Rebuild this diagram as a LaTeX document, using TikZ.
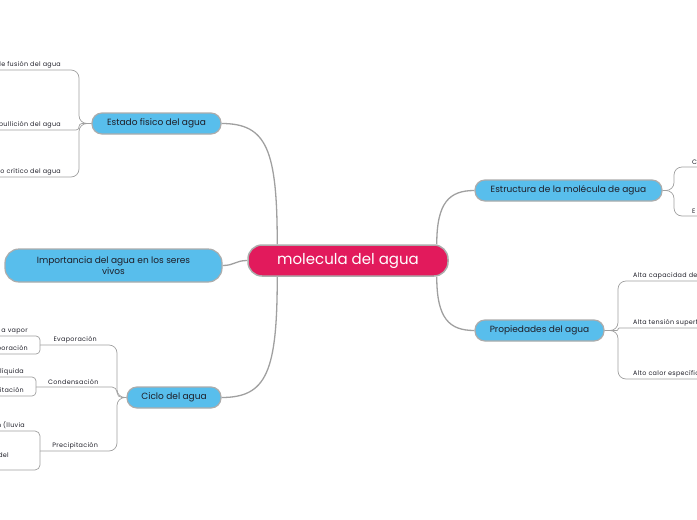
\documentclass[tikz,border=0pt]{standalone}
\usepackage{fontspec}
\setmainfont{Poppins}
\usetikzlibrary{calc,backgrounds}
\definecolor{rootpink}{RGB}{226,26,92}
\definecolor{topicblue}{RGB}{88,190,236}
\definecolor{edgegray}{RGB}{172,172,172}
\definecolor{linkgray}{RGB}{160,160,160}
\definecolor{inkdark}{RGB}{30,30,40}
\tikzset{
  root/.style ={draw=edgegray, line width=1.5pt, fill=rootpink, rounded corners=14pt, text=white,
                font=\fontsize{15}{17}\selectfont, minimum width=200pt, minimum height=31pt, inner sep=2pt},
  topic/.style={draw=edgegray, line width=1.2pt, fill=topicblue, rounded corners=10pt, text=inkdark,
                font=\fontsize{9}{11}\selectfont, minimum height=21pt, inner sep=2pt, align=center},
  leaf/.style ={font=\fontsize{6.4}{8.2}\selectfont\addfontfeatures{LetterSpace=5}, text=inkdark, inner sep=2pt},
  lnk/.style  ={draw=linkgray, line width=1.3pt},
  sub/.style  ={draw=linkgray, line width=0.7pt, rounded corners=8pt},
}
\begin{document}
\begin{tikzpicture}[x=1pt,y=-1pt]
\useasboundingbox (0,0) rectangle (697,520);

\node[root] (agua) at (348,260.5) {molecula del agua};
\node[topic,minimum width=129pt] (estado) at (156.5,123.5) {Estado fisico del agua};
\node[topic,minimum width=217pt,minimum height=33pt,rounded corners=14pt] (importancia) at (113.5,265.5) {Importancia del agua en los seres\\ vivos};
\node[topic,minimum width=94pt] (ciclo) at (174,397.5) {Ciclo del agua};
\node[topic,minimum width=187pt] (estructura) at (568.5,190.5) {Estructura de la molécula de agua};
\node[topic,minimum width=129pt] (propiedades) at (539.5,330.5) {Propiedades del agua};

% estado fisico
\node[leaf,anchor=south east] (fusion) at (63,70) {Punto de fusión del agua};
\node[leaf,anchor=south east] (ebullicion) at (63,130) {Punto de ebullición del agua};
\node[leaf,anchor=south east] (critico) at (63,177) {Punto crítico del agua};

% ciclo
\node[leaf,anchor=south west,minimum width=70pt] (evap) at (40,345) {Evaporación};
\node[leaf,anchor=south west,minimum width=74pt] (conden) at (36,387) {Condensación};
\node[leaf,anchor=south west,minimum width=70pt] (precip) at (40,451) {Precipitación};
\node[leaf,anchor=south east] (vapor) at (30,336) {a vapor};
\node[leaf,anchor=south east] (evapo) at (30,354) {evaporación};
\node[leaf,anchor=south east] (liquida) at (26,377) {líquida};
\node[leaf,anchor=south east] (precipit) at (26,396) {precipitación};
\node[leaf,anchor=south east] (lluvia) at (27,431) {n (lluvia};
\node[leaf,anchor=south east,align=right] (suelo) at (11,470) {del\\[2pt]\mbox{}};

% estructura y propiedades
\node[leaf,anchor=south west,text width=20pt] (compc) at (690,167) {C};
\node[leaf,anchor=south west,text width=20pt] (compe) at (690,216) {E};
\node[leaf,anchor=south west,text width=75pt] (capacidad) at (631,281) {Alta capacidad de};
\node[leaf,anchor=south west] (tension) at (631,328) {Alta tensión superficial};
\node[leaf,anchor=south west] (calor) at (631,379) {Alto calor específico};

\begin{scope}[on background layer]
\draw[lnk] ($(agua.north west)+(30,0)$) .. controls +(0,-95) and +(45,0) .. (estado.east);
\draw[lnk] ($(agua.south west)+(30,0)$) .. controls +(0,95) and +(45,0) .. (ciclo.east);
\draw[lnk] (agua.west) .. controls +(-12,0) and +(12,0) .. (importancia.east);
\draw[lnk] ($(agua.north east)+(-12,0)$) .. controls +(0,-42) and +(-25,0) .. (estructura.west);
\draw[lnk] ($(agua.south east)+(-12,0)$) .. controls +(0,42) and +(-25,0) .. (propiedades.west);

\draw[sub] (estado.west) -- (79,123.5) |- (fusion.south west);
\draw[sub,rounded corners=3pt] (estado.west) -- (79,123.5) |- (ebullicion.south west);
\draw[sub] (estado.west) -- (79,123.5) |- (critico.south west);

\draw[sub] (ciclo.west) -- (117,397.5) |- (evap.south west);
\draw[sub,rounded corners=5pt] (ciclo.west) -- (117,397.5) |- (conden.south west);
\draw[sub] (ciclo.west) -- (117,397.5) |- (precip.south west);
\draw[sub,rounded corners=4pt] (evap.south west) |- (vapor.south west);
\draw[sub,rounded corners=4pt] (evap.south west) |- (evapo.south west);
\draw[sub,rounded corners=4pt] (conden.south west) |- (liquida.south west);
\draw[sub,rounded corners=4pt] (conden.south west) |- (precipit.south west);
\draw[sub,rounded corners=5pt] (precip.south west) |- (lluvia.south west);
\draw[sub,rounded corners=5pt] (precip.south west) |- (suelo.south west);

\draw[sub] (estructura.east) -- (674,190.5) |- (compc.south east);
\draw[sub] (estructura.east) -- (674,190.5) |- (compe.south east);
\draw[sub] (propiedades.east) -- (618,330.5) |- (capacidad.south east);
\draw[sub,rounded corners=1pt] (propiedades.east) -- (618,330.5) |- (tension.south east);
\draw[sub] (propiedades.east) -- (618,330.5) |- (calor.south east);
\end{scope}
\end{tikzpicture}
\end{document}
